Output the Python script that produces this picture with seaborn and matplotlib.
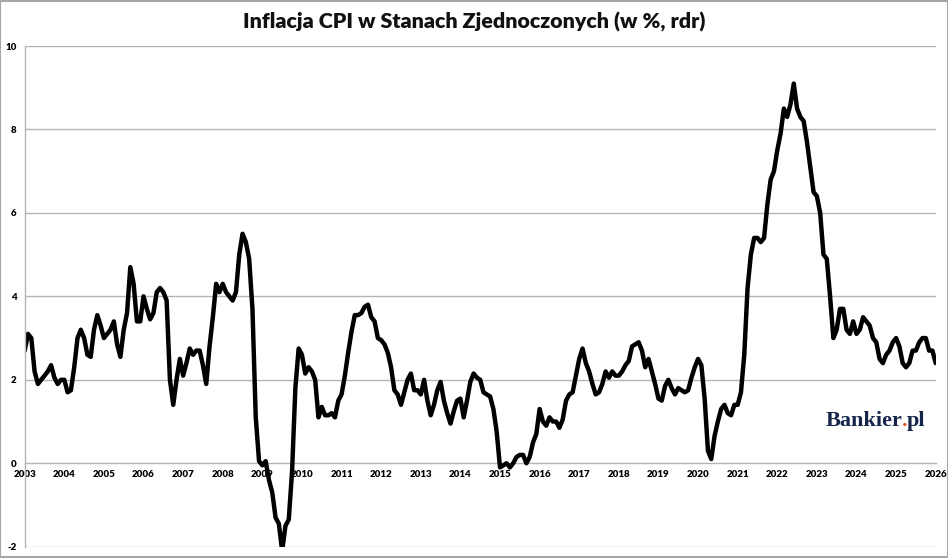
import numpy as np
import pandas as pd
import matplotlib
matplotlib.use("Agg")
import matplotlib.pyplot as plt
from matplotlib.patches import Rectangle
import seaborn as sns

# ---- data: US CPI inflation, y/y %, monthly ----
cpi_2003 = [2.7, 3.1, 3.0, 2.2, 1.9, 2.0, 2.1, 2.2, 2.35, 2.05, 1.9, 2.0]
cpi_2004 = [2.0, 1.7, 1.75, 2.3, 3.0, 3.2, 3.0, 2.6, 2.55, 3.2, 3.55, 3.3]
cpi_2005 = [3.0, 3.1, 3.2, 3.4, 2.85, 2.55, 3.2, 3.6, 4.7, 4.3, 3.4, 3.4]
cpi_2006 = [4.0, 3.7, 3.45, 3.6, 4.1, 4.2, 4.1, 3.9, 2.0, 1.4, 2.0, 2.5]
cpi_2007 = [2.1, 2.4, 2.75, 2.6, 2.7, 2.7, 2.35, 1.9, 2.8, 3.5, 4.3, 4.1]
cpi_2008 = [4.3, 4.1, 4.0, 3.9, 4.1, 5.0, 5.5, 5.3, 4.9, 3.7, 1.1, 0.05]
cpi_2009 = [-0.05, 0.05, -0.4, -0.7, -1.3, -1.45, -2.1, -1.5, -1.35, -0.2, 1.8, 2.75]
cpi_2010 = [2.6, 2.15, 2.3, 2.2, 2.0, 1.1, 1.35, 1.15, 1.15, 1.2, 1.1, 1.5]
cpi_2011 = [1.65, 2.1, 2.65, 3.15, 3.55, 3.55, 3.6, 3.75, 3.8, 3.5, 3.4, 3.0]
cpi_2012 = [2.95, 2.85, 2.65, 2.3, 1.75, 1.65, 1.4, 1.7, 2.0, 2.15, 1.75, 1.75]
cpi_2013 = [1.65, 2.0, 1.5, 1.15, 1.4, 1.75, 1.95, 1.5, 1.2, 0.95, 1.25, 1.5]
cpi_2014 = [1.55, 1.1, 1.5, 1.95, 2.15, 2.05, 2.0, 1.7, 1.65, 1.6, 1.3, 0.75]
cpi_2015 = [-0.1, -0.05, 0.0, -0.1, 0.0, 0.15, 0.2, 0.2, 0.0, 0.15, 0.5, 0.7]
cpi_2016 = [1.3, 1.0, 0.9, 1.1, 1.0, 1.0, 0.85, 1.05, 1.5, 1.65, 1.7, 2.1]
cpi_2017 = [2.5, 2.75, 2.4, 2.2, 1.9, 1.65, 1.7, 1.9, 2.2, 2.05, 2.2, 2.1]
cpi_2018 = [2.1, 2.2, 2.35, 2.45, 2.8, 2.85, 2.9, 2.7, 2.3, 2.5, 2.2, 1.9]
cpi_2019 = [1.55, 1.5, 1.85, 2.0, 1.8, 1.65, 1.8, 1.75, 1.7, 1.75, 2.05, 2.3]
cpi_2020 = [2.5, 2.35, 1.55, 0.3, 0.1, 0.65, 1.0, 1.3, 1.4, 1.2, 1.15, 1.4]
cpi_2021 = [1.4, 1.7, 2.6, 4.2, 5.0, 5.4, 5.4, 5.3, 5.4, 6.2, 6.8, 7.0]
cpi_2022 = [7.5, 7.9, 8.5, 8.3, 8.6, 9.1, 8.5, 8.3, 8.2, 7.7, 7.1, 6.5]
cpi_2023 = [6.4, 6.0, 5.0, 4.9, 4.0, 3.0, 3.2, 3.7, 3.7, 3.2, 3.1, 3.4]
cpi_2024 = [3.1, 3.2, 3.5, 3.4, 3.3, 3.0, 2.9, 2.5, 2.4, 2.6, 2.7, 2.9]
cpi_2025 = [3.0, 2.8, 2.4, 2.3, 2.4, 2.7, 2.7, 2.9, 3.0, 3.0, 2.7, 2.7]
cpi_2026 = [2.4]

all_years = [cpi_2003, cpi_2004, cpi_2005, cpi_2006, cpi_2007, cpi_2008,
             cpi_2009, cpi_2010, cpi_2011, cpi_2012, cpi_2013, cpi_2014,
             cpi_2015, cpi_2016, cpi_2017, cpi_2018, cpi_2019, cpi_2020,
             cpi_2021, cpi_2022, cpi_2023, cpi_2024, cpi_2025, cpi_2026]

year_ticks = list(range(2003, 2027))
y_ticks = [-2, 0, 2, 4, 6, 8, 10]

title = "Inflacja CPI w Stanach Zjednoczonych (w %, rdr)"

rows = []
for i, vals in enumerate(all_years):
    yr = 2003 + i
    for m, v in enumerate(vals):
        rows.append((yr + m / 12.0, v))
df = pd.DataFrame(rows, columns=["t", "cpi"])

sns.set_theme(style="white")
plt.rcParams["font.family"] = ["Lato", "DejaVu Sans"]

fig = plt.figure(figsize=(9.48, 5.58), dpi=100)
ax = fig.add_axes([24.7 / 948, 1 - 546.7 / 558, (935.7 - 24.7) / 948, (546.7 - 46) / 558])

grid_c = "#b4b4b4"
for s in ["top", "right"]:
    ax.spines[s].set_visible(False)
ax.spines["bottom"].set_position(("data", 0))
ax.spines["left"].set_color(grid_c)
ax.spines["left"].set_linewidth(1.0)
ax.spines["bottom"].set_color(grid_c)
ax.spines["bottom"].set_linewidth(1.0)
ax.spines["bottom"].set_zorder(0.5)

sns.lineplot(data=df, x="t", y="cpi", ax=ax, color="black", linewidth=3.2,
             solid_joinstyle="round", solid_capstyle="round")

ax.set_xlim(2003, 2026)
ax.set_ylim(-2, 10)
ax.set_xlabel("")
ax.set_ylabel("")

for v in y_ticks:
    if v != 0:
        ax.axhline(v, color=grid_c, lw=1.0, zorder=0)

ax.tick_params(axis="x", direction="out", length=4, width=1, color=grid_c, pad=1,
               labelcolor="black", labelsize=7)
ax.tick_params(axis="y", direction="out", length=3, width=1, color=grid_c, pad=3,
               labelcolor="black", labelsize=7)

ax.set_yticks(y_ticks)
ax.set_yticklabels([str(v) for v in y_ticks], fontsize=7, fontweight="heavy")
ax.set_xticks(year_ticks)
ax.set_xticklabels([str(v) for v in year_ticks], fontsize=7, fontweight="heavy")
ax.set_facecolor("white")

fig.text(0.5, 1 - 22 / 558, title, ha="center", va="center", fontsize=15.4,
         fontweight="heavy", color="#111111")

# logo
navy = "#15264a"
t1 = fig.text(826 / 948, 1 - 431 / 558, "Bankier", ha="left", va="bottom",
              fontsize=16, fontweight="bold", family="Liberation Serif", color=navy)
t2 = fig.text(0, 0, ".", fontsize=16, fontweight="bold", family="Liberation Serif",
              color="#e8501e", ha="left", va="bottom")
t3 = fig.text(0, 0, "pl", fontsize=16, fontweight="bold", family="Liberation Serif",
              color=navy, ha="left", va="bottom")
fig.canvas.draw()
r = fig.canvas.get_renderer()
b1 = t1.get_window_extent(r)
t2.set_position(((b1.x1 - 1) / fig.bbox.width, b1.y0 / fig.bbox.height))
fig.canvas.draw()
b2 = t2.get_window_extent(r)
t3.set_position(((b2.x1 - 1) / fig.bbox.width, b1.y0 / fig.bbox.height))

fig.patches.append(Rectangle((0.0005, 0.001), 0.999, 0.998, transform=fig.transFigure,
                             fill=False, edgecolor="#a6a6a6", linewidth=1.5))

fig.savefig("out.png", dpi=100, facecolor="white")
